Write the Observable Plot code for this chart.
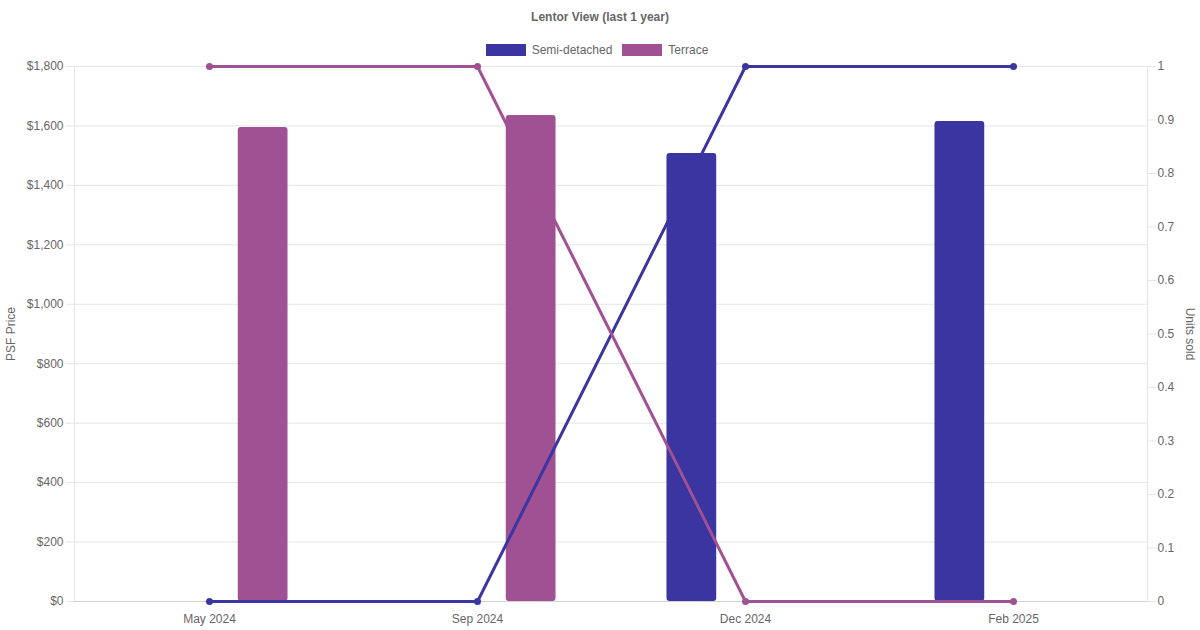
<!DOCTYPE html>
<html>
<head>
<meta charset="utf-8">
<script src="https://cdn.jsdelivr.net/npm/d3@7"></script>
<script src="https://cdn.jsdelivr.net/npm/@observablehq/plot@0.6"></script>
<style>
  html, body { margin: 0; padding: 0; background: #fff; }
  #wrap { position: relative; width: 1200px; height: 630px; font-family: "Liberation Sans", Arial, sans-serif; }
  #title { position: absolute; top: 10px; left: 0; width: 1200px; text-align: center; font-size: 12px; font-weight: bold; color: #666; }
  #legend { position: absolute; top: 43px; left: -3px; width: 1200px; display: flex; justify-content: center; gap: 10px; font-size: 12px; color: #666; }
  .item { display: flex; align-items: center; gap: 6px; }
  .sw { width: 40px; height: 12px; display: inline-block; }
  #chart { position: absolute; top: 0; left: 0; }
</style>
</head>
<body>
<div id="wrap">
  <div id="chart"></div>
  <div id="title">Lentor View (last 1 year)</div>
  <div id="legend"></div>
</div>
<script>
const months = ["May 2024", "Sep 2024", "Dec 2024", "Feb 2025"];
const seriesNames = ["Semi-detached", "Terrace"];
const seriesColors = ["#3a35a0", "#a05193"];
const semiPsf = [null, null, 1507, 1615];
const terracePsf = [1595, 1635, null, null];
const semiUnits = [0, 0, 1, 1];
const terraceUnits = [1, 1, 0, 0];
const psfTicks = [0, 200, 400, 600, 800, 1000, 1200, 1400, 1600, 1800];
const unitTicks = [0, 0.1, 0.2, 0.3, 0.4, 0.5, 0.6, 0.7, 0.8, 0.9, 1];

const W = 1200, H = 630, ML = 74, MR = 53, MT = 66, MB = 29;
const yMax = 1800, uMax = 1;
const bw = (W - ML - MR) / months.length;
const barW = 50;
const slot = bw * 0.4;
const pad = (slot - barW) / 2;

const psfRows = [];
months.forEach((m, i) => {
  if (semiPsf[i] != null) psfRows.push({month: m, series: seriesNames[0], v: semiPsf[i]});
  if (terracePsf[i] != null) psfRows.push({month: m, series: seriesNames[1], v: terracePsf[i]});
});
const unitRows = [];
months.forEach((m, i) => {
  unitRows.push({month: m, series: seriesNames[0], u: semiUnits[i]});
  unitRows.push({month: m, series: seriesNames[1], u: terraceUnits[i]});
});
const toY = u => u / uMax * yMax;
const fmtU = d3.format("~g");

const legend = document.getElementById("legend");
seriesNames.forEach((s, i) => {
  const it = document.createElement("div");
  it.className = "item";
  it.innerHTML = `<span class="sw" style="background:${seriesColors[i]}"></span><span>${s}</span>`;
  legend.appendChild(it);
});

const chart = Plot.plot({
  width: W, height: H,
  marginLeft: ML, marginRight: MR, marginTop: MT, marginBottom: MB,
  style: {fontFamily: "Liberation Sans, Arial, sans-serif", fontSize: "12px", color: "#666", background: "#fff"},
  x: {type: "band", domain: months, padding: 0},
  y: {domain: [0, yMax]},
  color: {domain: seriesNames, range: seriesColors},
  marks: [
    Plot.gridY(psfTicks, {stroke: "#e5e5e5", strokeOpacity: 1}),
    Plot.frame({stroke: "#e5e5e5"}),
    Plot.axisY(psfTicks, {anchor: "left", tickSize: 8, tickPadding: 3, stroke: "#e5e5e5", strokeOpacity: 1, fill: "#666", tickFormat: d => "$" + d3.format(",")(d), label: null}),
    Plot.axisY(unitTicks.map(toY), {anchor: "right", tickSize: 8, tickPadding: 2, stroke: "#e5e5e5", strokeOpacity: 1, fill: "#666", tickFormat: d => fmtU(+(d / yMax * uMax).toFixed(2)), label: null}),
    Plot.axisX({tickSize: 0, tickPadding: 13, fill: "#666", label: null}),
    Plot.barY(psfRows.filter(d => d.series === seriesNames[0]), {x: "month", y: "v", fill: seriesColors[0], insetLeft: bw * 0.1 + pad, insetRight: bw * 0.5 + pad, rx: 3}),
    Plot.barY(psfRows.filter(d => d.series === seriesNames[1]), {x: "month", y: "v", fill: seriesColors[1], insetLeft: bw * 0.5 + pad, insetRight: bw * 0.1 + pad, rx: 3}),
    Plot.ruleY([0], {stroke: "#d0d0d0"}),
    Plot.line(unitRows, {x: "month", y: d => toY(d.u), z: "series", stroke: "series", strokeWidth: 3}),
    Plot.dot(unitRows, {x: "month", y: d => toY(d.u), fill: "series", r: 3.5}),
    Plot.text(["PSF Price"], {frameAnchor: "left", dx: -63, rotate: -90, textAnchor: "middle", fill: "#666", fontSize: 12}),
    Plot.text(["Units sold"], {frameAnchor: "right", dx: 42, rotate: 90, textAnchor: "middle", fill: "#666", fontSize: 12})
  ]
});
document.getElementById("chart").appendChild(chart);
</script>
</body>
</html>
